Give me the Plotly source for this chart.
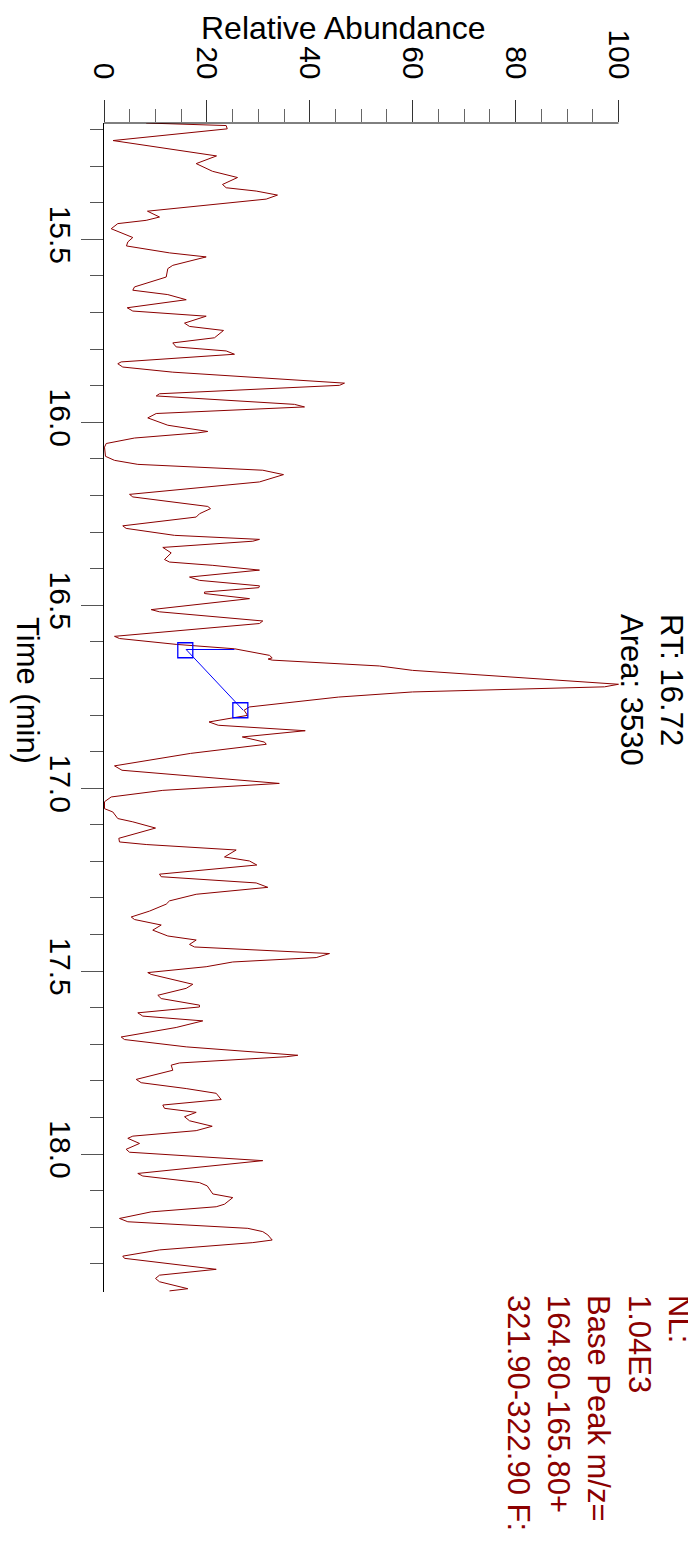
import plotly.graph_objects as go

# Chromatogram values (time in minutes, relative abundance in %)
times = [15.182, 15.189, 15.198, 15.230, 15.272, 15.293, 15.314, 15.331, 15.350, 15.359,
         15.368, 15.379, 15.390, 15.410, 15.423, 15.439, 15.448, 15.457, 15.471, 15.495,
         15.507, 15.518, 15.537, 15.548, 15.571, 15.580, 15.603, 15.630, 15.639, 15.651,
         15.665, 15.687, 15.696, 15.710, 15.729, 15.738, 15.749, 15.769, 15.783, 15.794,
         15.805, 15.814, 15.835, 15.840, 15.849, 15.863, 15.893, 15.899, 15.922, 15.928,
         15.951, 15.958, 15.976, 15.988, 16.008, 16.025, 16.029, 16.043, 16.058, 16.068,
         16.093, 16.104, 16.115, 16.131, 16.143, 16.163, 16.180, 16.197, 16.204, 16.230,
         16.236, 16.250, 16.259, 16.283, 16.290, 16.309, 16.320, 16.325, 16.342, 16.357,
         16.375, 16.382, 16.391, 16.404, 16.423, 16.432, 16.447, 16.452, 16.464, 16.468,
         16.482, 16.512, 16.518, 16.543, 16.550, 16.585, 16.591, 16.607, 16.619, 16.637,
         16.644, 16.647, 16.650, 16.666, 16.678, 16.708, 16.716, 16.723, 16.737, 16.751,
         16.778, 16.787, 16.801, 16.819, 16.828, 16.843, 16.860, 16.874, 16.880, 16.905,
         16.939, 16.951, 16.987, 17.006, 17.024, 17.037, 17.056, 17.065, 17.083, 17.092,
         17.109, 17.137, 17.147, 17.154, 17.169, 17.188, 17.199, 17.210, 17.235, 17.242,
         17.259, 17.271, 17.290, 17.308, 17.317, 17.336, 17.352, 17.359, 17.374, 17.388,
         17.404, 17.415, 17.427, 17.434, 17.452, 17.463, 17.475, 17.488, 17.504, 17.509,
         17.536, 17.547, 17.566, 17.575, 17.593, 17.598, 17.614, 17.623, 17.636, 17.654,
         17.680, 17.687, 17.707, 17.730, 17.734, 17.751, 17.757, 17.771, 17.796, 17.805,
         17.821, 17.834, 17.851, 17.866, 17.875, 17.886, 17.898, 17.909, 17.924, 17.936,
         17.951, 17.957, 17.971, 17.987, 17.995, 18.018, 18.053, 18.060, 18.078, 18.087,
         18.109, 18.119, 18.137, 18.144, 18.158, 18.176, 18.185, 18.203, 18.212, 18.221,
         18.235, 18.242, 18.262, 18.279, 18.285, 18.315, 18.331, 18.340, 18.349, 18.368, 18.374]

abundance = [8.20, 23.75, 23.95, 1.75, 21.87, 17.92, 21.09, 25.95, 23.03, 23.75,
             29.58, 33.72, 31.53, 17.92, 8.45, 10.79, 8.20, 2.68, 1.40, 5.60,
             4.63, 4.37, 12.73, 19.86, 13.37, 12.40, 12.09, 5.93, 5.60, 12.40,
             15.98, 4.51, 5.60, 19.86, 15.65, 16.62, 23.23, 21.48, 13.37, 14.03,
             23.75, 25.36, 3.34, 2.68, 3.65, 13.37, 46.74, 45.77, 10.79, 10.15,
             37.03, 38.97, 10.15, 8.51, 12.40, 20.17, 18.23, 5.93, 0.43, 0.10,
             0.29, 2.04, 6.57, 30.86, 34.89, 30.22, 17.59, 4.96, 5.60, 20.17,
             20.70, 18.56, 17.92, 3.65, 4.31, 13.70, 30.22, 28.92, 11.43, 13.06,
             11.76, 12.73, 21.15, 30.22, 16.62, 18.56, 30.22, 30.09, 19.53, 19.53,
             28.28, 9.17, 10.79, 30.86, 30.22, 2.04, 3.01, 14.03, 25.36, 32.17,
             32.69, 31.90, 32.69, 53.55, 59.96, 92.22, 100.0, 97.28, 59.96, 45.58,
             28.28, 27.23, 27.89, 20.41, 22.20, 39.11, 26.88, 31.19, 31.54, 16.81,
             2.04, 3.50, 34.07, 11.43, 1.40, 0.10, 0.10, 1.71, 2.68, 5.60,
             10.01, 2.88, 3.01, 8.20, 25.69, 23.42, 28.28, 29.70, 10.79, 11.12,
             29.58, 31.84, 17.92, 12.73, 12.09, 8.84, 5.29, 5.93, 11.12, 9.48,
             12.40, 17.92, 16.62, 17.59, 43.83, 41.24, 25.03, 19.86, 8.51, 9.17,
             17.26, 15.98, 10.46, 11.12, 18.56, 18.56, 6.57, 7.54, 19.20, 14.03,
             3.34, 3.98, 15.98, 37.67, 35.41, 14.67, 13.06, 13.37, 6.26, 7.23,
             15.98, 21.81, 22.78, 11.43, 11.76, 17.92, 15.65, 16.62, 21.03, 17.92,
             5.60, 4.63, 6.90, 4.31, 4.96, 30.86, 6.57, 7.54, 18.56, 20.06,
             21.15, 25.03, 23.42, 21.81, 9.17, 3.01, 4.63, 27.95, 30.86, 31.84,
             32.69, 28.92, 10.79, 3.65, 3.98, 21.81, 10.79, 10.01, 10.79, 16.29, 12.73]

# Peak integration markers (start / end of peak)
peak_marker_times = [16.623, 16.787]
peak_marker_abund = [15.8, 26.5]
peak_link_times = [16.621, 16.787]
peak_link_abund = [15.96, 27.06]
baseline_hint_times = [16.621, 16.621]
baseline_hint_abund = [15.96, 25.36]
range_hint_times = [16.603, 16.892]

x_major = [0, 20, 40, 60, 80, 100]
x_minor = [5, 10, 15, 25, 30, 35, 45, 50, 55, 65, 70, 75, 85, 90, 95]

peak_label = "RT: 16.72<br>Area: 3530"
info_label = "NL:<br>1.04E3<br>Base Peak m/z=<br>164.80-165.80+<br>321.90-322.90 F:"

FONT = "Liberation Sans, Arial, sans-serif"
RED = "#8b0000"

fig = go.Figure()
fig.add_trace(go.Scatter(x=abundance, y=times, mode="lines",
                         line=dict(color=RED, width=1), hoverinfo="skip"))
fig.add_trace(go.Scatter(x=baseline_hint_abund, y=baseline_hint_times, mode="lines",
                         line=dict(color="#0000ff", width=1), hoverinfo="skip"))
fig.add_trace(go.Scatter(x=peak_link_abund, y=peak_link_times, mode="lines",
                         line=dict(color="#0000ff", width=1), hoverinfo="skip"))
fig.add_trace(go.Scatter(x=peak_marker_abund, y=peak_marker_times, mode="markers",
                         marker=dict(symbol="square-open", size=15, color="#0000ff",
                                     line=dict(width=1.3, color="#0000ff")),
                         hoverinfo="skip"))

shapes = [
    # top axis line (0..100 only)
    dict(type="line", xref="x", yref="paper", x0=0, x1=100, y0=1, y1=1,
         line=dict(color="black", width=1)),
    # light right frame
    dict(type="line", xref="paper", yref="paper", x0=1, x1=1, y0=0, y1=1,
         line=dict(color="#bdbdbd", width=1)),
]
for t in range_hint_times:
    shapes.append(dict(type="line", xref="paper", yref="y", x0=0.993, x1=1, y0=t, y1=t,
                       line=dict(color="#6060ff", width=1)))

# page body has an 8px default margin: figure is sized/offset to compensate
fig.update_layout(
    width=688, height=1535,
    margin=dict(l=96, r=1, t=115, b=251),
    paper_bgcolor="white", plot_bgcolor="white",
    showlegend=False,
    font=dict(family=FONT, size=30, color="black"),
    shapes=shapes,
    xaxis=dict(
        side="top", range=[0, 114.87], showline=False, showgrid=False, zeroline=False,
        tickmode="array", tickvals=x_major, ticks="outside", ticklen=22,
        tickcolor="#333333", tickwidth=1, tickangle=90, ticklabelstandoff=10,
        tickfont=dict(family=FONT, size=30, color="black"),
        minor=dict(tickmode="array", tickvals=x_minor, ticks="outside", ticklen=13,
                   tickcolor="#666666", tickwidth=1, showgrid=False),
    ),
    yaxis=dict(
        range=[18.377, 15.182], showline=True, linecolor="black", linewidth=1,
        showgrid=False, zeroline=False,
        tick0=15.5, dtick=0.5, tickformat=".1f", ticks="outside", ticklen=22,
        tickcolor="#555555", tickwidth=1, tickangle=90, ticklabelstandoff=-5,
        tickfont=dict(family=FONT, size=30, color="black"),
        minor=dict(tick0=15.2, dtick=0.1, ticks="outside", ticklen=13,
                   tickcolor="#555555", tickwidth=1, showgrid=False),
    ),
    annotations=[
        dict(text="Relative Abundance", xref="paper", yref="paper",
             x=(343 - 104) / 591, y=(1292 - 28) / 1169, xanchor="center", yanchor="middle",
             showarrow=False, font=dict(family=FONT, size=32, color="black")),
        dict(text="Time (min)", xref="paper", yref="paper",
             x=(28 - 104) / 591, y=(1292 - 690) / 1169, xanchor="center", yanchor="middle",
             textangle=90, showarrow=False, font=dict(family=FONT, size=31, color="black")),
        dict(text=peak_label, xref="paper", yref="paper",
             x=(652 - 104) / 591, y=(1292 - 612) / 1169, xanchor="center", yanchor="top",
             textangle=90, align="left", showarrow=False,
             font=dict(family=FONT, size=31, color="black")),
        dict(text=info_label, xref="paper", yref="paper",
             x=(599 - 104) / 591, y=(1292 - 1293) / 1169, xanchor="center", yanchor="top",
             textangle=90, align="left", showarrow=False,
             font=dict(family=FONT, size=31, color=RED)),
    ],
)

fig.write_html("out.html")
